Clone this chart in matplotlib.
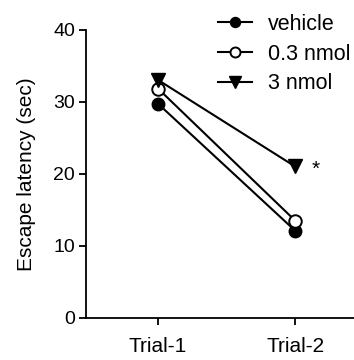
import matplotlib
matplotlib.use("Agg")
import matplotlib.pyplot as plt

trials = ["Trial-1", "Trial-2"]
vehicle = [29.7, 12.1]
nmol03 = [31.8, 13.5]
nmol3 = [33.0, 21.0]
yticks = [0, 10, 20, 30, 40]

plt.rcParams['font.family'] = ['Liberation Sans', 'DejaVu Sans']

fig = plt.figure(figsize=(3.54, 3.60), dpi=100)
ax = fig.add_axes([0.243, 0.117, 0.757, 0.801])
x = [0, 1]
ms = 9
lw = 1.5
l1, = ax.plot(x, vehicle, color='black', lw=lw, marker='o', ms=ms, mfc='black', mec='black', label='vehicle')
l2, = ax.plot(x, nmol03, color='black', lw=lw, marker='o', ms=ms, mfc='white', mec='black', mew=1.4, label='0.3 nmol')
l3, = ax.plot(x, nmol3, color='black', lw=lw, marker='v', ms=ms + 1, mfc='black', mec='black', label='3 nmol')
ax.text(1.153, 20.6, '*', fontsize=15, ha='center', va='center')

ax.set_xlim(-0.526, 1.43)
ax.set_ylim(0, 40)
ax.set_xticks(x)
ax.set_xticklabels(trials, fontsize=15)
ax.set_yticks(yticks)
ax.tick_params(axis='y', labelsize=14, length=5, width=1.3, direction='out', pad=3)
ax.tick_params(axis='x', length=5, width=1.3, direction='out', pad=9)
ax.spines['top'].set_visible(False)
ax.spines['right'].set_visible(False)
ax.spines['left'].set_linewidth(1.3)
ax.spines['bottom'].set_linewidth(1.3)
ax.set_ylabel('Escape latency (sec)', fontsize=15)
ax.yaxis.set_label_coords(-0.185, 0.5)

leg = fig.legend(handles=[l1, l2, l3], loc='upper left', bbox_to_anchor=(0.617, 0.962),
                 frameon=False, fontsize=15.5, handlelength=1.55, handletextpad=0.75,
                 labelspacing=0.41, borderaxespad=0, borderpad=0, markerscale=0.8)

fig.savefig('out.png', dpi=100)
